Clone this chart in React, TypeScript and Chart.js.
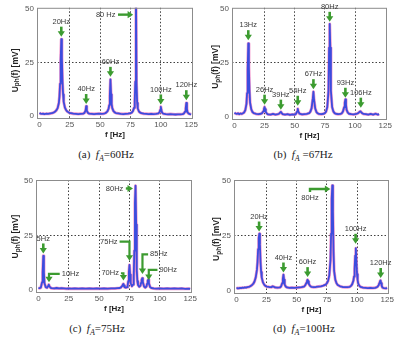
import React, { useEffect, useRef } from "react";
import { Chart, registerables } from "chart.js";

Chart.register(...registerables);
Chart.defaults.font.family = "'Liberation Sans', Arial, sans-serif";

type Pt = [number, number];

// ---------- data: [frequency Hz, amplitude mV] ----------
const spectrumA: Pt[] = [
  [0, 1.3], [1, 1.0], [2, 0.9], [3, 1.0], [4, 0.8], [5, 0.9], [6, 1.0], [7, 0.9], [8, 1.0], [9, 1.1],
  [10, 1.2], [11, 1.4], [12, 1.6], [13, 2.0], [14, 2.6], [15, 3.6], [16, 6.0], [16.5, 9], [17, 15], [17.5, 26],
  [18, 35.8], [18.5, 27], [19, 16], [19.5, 10], [20, 6.5], [21, 3.8], [22, 2.6], [23, 2.0], [24, 1.6], [25, 1.3],
  [26, 1.2], [28, 1.0], [30, 0.9], [32, 0.8], [34, 0.9], [36, 1.0], [37, 1.3], [38, 2.4], [38.5, 4.5], [39, 2.4],
  [40, 1.3], [41, 1.0], [43, 0.9], [45, 0.8], [47, 0.9], [49, 1.0], [51, 0.9], [53, 1.0], [54, 1.2], [55, 1.5],
  [56, 2.1], [57, 3.4], [57.5, 5], [58, 9.5], [58.5, 17], [59, 10], [59.5, 5.5], [60, 3.6], [61, 2.2], [62, 1.6],
  [63, 1.3], [65, 1.1], [67, 0.9], [69, 0.8], [71, 0.9], [73, 1.0], [75, 1.2], [76, 1.5], [77, 2.2], [78, 3.8],
  [78.5, 6.5], [79, 16], [79.5, 62], [80, 15], [80.5, 6], [81, 3.4], [82, 2.0], [83, 1.5], [84, 1.2], [86, 1.0],
  [88, 0.9], [90, 0.8], [92, 0.9], [94, 0.8], [96, 0.9], [98, 1.1], [99, 1.7], [99.5, 2.8], [100, 4.2], [100.5, 2.6],
  [101, 1.5], [102, 1.0], [104, 0.8], [106, 0.7], [108, 0.8], [110, 0.7], [112, 0.6], [114, 0.7], [116, 0.7], [118, 0.8],
  [119, 1.1], [120, 2.0], [120.5, 3.5], [121, 6.0], [121.5, 3.2], [122, 1.6], [123, 1.0], [124, 0.8], [125, 0.7],
];

const spectrumB: Pt[] = [
  [0, 1.8], [1, 1.5], [2, 1.3], [3, 1.6], [4, 1.2], [5, 1.5], [6, 1.3], [7, 1.6], [8, 2.0], [9, 3.0],
  [10, 6.0], [10.5, 11], [11, 22], [11.5, 34], [12, 23], [12.5, 12], [13, 6.5], [14, 3.4], [15, 2.2], [16, 1.7],
  [17, 1.5], [18, 1.3], [20, 1.2], [22, 1.4], [23, 1.7], [24, 2.6], [24.5, 3.6], [25, 4.5], [25.5, 3.5], [26, 2.2],
  [27, 1.4], [28, 1.1], [30, 1.0], [32, 1.3], [34, 1.0], [36, 1.2], [37, 1.4], [38, 2.0], [38.5, 2.3], [39, 1.8],
  [40, 1.2], [42, 1.0], [44, 1.2], [46, 0.9], [48, 1.1], [50, 1.0], [51, 1.3], [52, 2.5], [52.5, 3.7], [53, 2.4],
  [54, 1.4], [56, 1.1], [58, 1.2], [60, 1.3], [62, 1.7], [63, 2.4], [64, 4.0], [65, 8.5], [65.5, 11.6], [66, 8.0],
  [67, 3.8], [68, 2.2], [69, 1.6], [70, 1.3], [72, 1.2], [74, 1.4], [75, 1.7], [76, 2.4], [77, 4.5], [78, 12],
  [78.5, 32], [79, 43], [79.5, 32], [80, 12], [81, 4.5], [82, 2.5], [83, 1.7], [84, 1.4], [86, 1.2], [88, 1.3],
  [89, 1.6], [90, 2.4], [91, 4.5], [91.5, 6.5], [92, 8.0], [92.5, 5.5], [93, 3.2], [94, 1.9], [95, 1.4], [97, 1.2],
  [99, 1.1], [101, 1.3], [102, 1.5], [103, 1.9], [104, 2.4], [104.5, 2.5], [105, 2.2], [106, 1.6], [107, 1.3], [109, 1.2],
  [111, 1.0], [113, 1.3], [115, 1.0], [117, 1.4], [119, 1.0], [120, 1.2],
];

const spectrumC: Pt[] = [
  [0, 0.8], [1, 0.7], [2, 1.0], [3, 3.5], [3.5, 8], [4, 15.6], [4.5, 8], [5, 3.0], [6, 1.2], [7, 0.9],
  [7.5, 1.2], [8, 1.8], [8.5, 2.4], [9, 1.6], [10, 0.9], [11, 0.7], [13, 0.6], [15, 0.8], [17, 0.6], [19, 0.7],
  [21, 0.6], [23, 0.5], [25, 0.6], [27, 0.5], [30, 0.6], [33, 0.5], [36, 0.6], [39, 0.5], [42, 0.6], [45, 0.5],
  [48, 0.6], [51, 0.5], [54, 0.6], [57, 0.5], [60, 0.6], [63, 0.6], [65, 0.7], [67, 0.8], [68, 1.1], [69, 1.8],
  [69.5, 2.4], [70, 2.7], [70.5, 2.0], [71, 1.2], [72, 1.0], [73, 1.2], [73.5, 2.0], [74, 4.0], [74.5, 8], [75, 11.4],
  [75.5, 7], [76, 3.0], [77, 1.6], [78, 2.4], [78.5, 6], [79, 18], [79.5, 40], [80, 47.9], [80.5, 30], [81, 9],
  [81.5, 4], [82, 2.2], [83, 1.4], [84, 1.8], [84.5, 3.2], [85, 4.6], [85.5, 5.3], [86, 3.6], [87, 1.5], [88, 1.0],
  [89, 1.5], [89.5, 2.8], [90, 4.2], [90.5, 4.7], [91, 3.0], [92, 1.2], [93, 0.8], [95, 0.6], [97, 0.5], [100, 0.6],
  [103, 0.5], [106, 0.6], [109, 0.5], [112, 0.6], [115, 0.5], [118, 0.6], [121, 0.4], [124, 0.5], [125, 0.4],
];

const spectrumD: Pt[] = [
  [0, 1.0], [1, 1.2], [2, 1.1], [3, 1.3], [4, 1.2], [5, 1.4], [6, 1.3], [7, 1.5], [8, 1.4], [9, 1.6],
  [10, 1.7], [11, 1.9], [12, 2.2], [13, 2.6], [14, 3.2], [15, 4.2], [16, 6.0], [17, 9.5], [17.5, 13], [18, 19],
  [18.5, 24], [19, 26], [19.5, 21], [20, 13], [20.5, 8.5], [21, 6.0], [22, 3.8], [23, 2.8], [24, 2.2], [25, 1.9],
  [27, 1.7], [29, 1.6], [30, 2.0], [31, 1.8], [32, 1.5], [34, 1.4], [36, 1.5], [37, 1.9], [38, 3.5], [38.5, 5.5],
  [39, 7.3], [39.5, 5], [40, 2.8], [41, 1.8], [42, 1.5], [44, 1.3], [46, 1.4], [48, 1.3], [50, 1.4], [52, 1.5],
  [54, 1.6], [56, 1.9], [57, 2.4], [58, 3.6], [58.5, 4.4], [59, 5.0], [59.5, 4.2], [60, 3.2], [61, 2.2], [62, 1.8],
  [64, 1.6], [66, 1.7], [68, 1.9], [70, 2.0], [72, 2.3], [74, 2.8], [75, 3.4], [76, 4.5], [77, 7], [78, 14],
  [78.5, 26], [79, 42], [79.5, 48], [80, 36], [80.5, 18], [81, 9], [82, 5], [83, 3.4], [84, 2.6], [86, 2.0],
  [88, 1.7], [90, 1.6], [92, 1.6], [94, 1.8], [95, 2.2], [96, 3.0], [97, 4.6], [97.5, 6.5], [98, 10], [98.5, 16],
  [99, 19.4], [99.5, 13], [100, 7.5], [100.5, 4.8], [101, 3.2], [102, 2.2], [103, 1.7], [105, 1.4], [107, 1.3], [109, 1.2],
  [111, 1.3], [113, 1.2], [115, 1.3], [116, 1.5], [117, 1.8], [118, 2.6], [118.5, 3.5], [119, 4.3], [119.5, 4.7], [120, 3.4],
  [120.5, 2.2], [121, 1.5], [122, 1.2], [124, 1.1], [125, 1.2],
];

// tick values
const xTickValues = [0, 25, 50, 75, 100, 125];
const yTickValues = [0, 25, 50];
const xGridValues = [25, 50, 75, 100];
const yGridValues = [25];

// peak labels: f/v = arrow tip (Hz, mV); tf/tv = label anchor
type Ann = { text: string; kind: "down" | "right" | "rightBelow" | "elbow"; f: number; v: number; tf?: number; tv?: number };

const labelsA: Ann[] = [
  { text: "20Hz", kind: "down", f: 18, v: 37 },
  { text: "40Hz", kind: "down", f: 38.5, v: 5.5 },
  { text: "60Hz", kind: "down", f: 58.5, v: 18.2 },
  { text: "80 Hz", kind: "right", f: 77.2, v: 47.3, tf: 64.7 },
  { text: "100Hz", kind: "down", f: 100, v: 5.3 },
  { text: "120Hz", kind: "down", f: 121, v: 7.3 },
];
const labelsB: Ann[] = [
  { text: "13Hz", kind: "down", f: 11.5, v: 35.5 },
  { text: "26Hz", kind: "down", f: 25, v: 5.6 },
  { text: "39Hz", kind: "down", f: 38.5, v: 3.3 },
  { text: "54Hz", kind: "down", f: 52.5, v: 5.1 },
  { text: "67Hz", kind: "down", f: 65.5, v: 12.8 },
  { text: "80Hz", kind: "down", f: 79, v: 44 },
  { text: "93Hz", kind: "down", f: 92, v: 8.8 },
  { text: "106Hz", kind: "down", f: 104.8, v: 4.2 },
];
const labelsC: Ann[] = [
  { text: "5Hz", kind: "down", f: 4, v: 16.7 },
  { text: "10Hz", kind: "elbow", f: 8.7, v: 3.5, tf: 26.4, tv: 7.3 },
  { text: "70Hz", kind: "elbow", f: 70, v: 4.2, tf: 59.1, tv: 7.6 },
  { text: "75Hz", kind: "elbow", f: 75, v: 13.3, tf: 58, tv: 22.1 },
  { text: "80Hz", kind: "right", f: 77.9, v: 46.6, tf: 72 },
  { text: "85Hz", kind: "elbow", f: 85.7, v: 7.3, tf: 99.2, tv: 16.3 },
  { text: "90Hz", kind: "elbow", f: 90.9, v: 4.5, tf: 106.9, tv: 9.1 },
];
const labelsD: Ann[] = [
  { text: "20Hz", kind: "down", f: 18.8, v: 27 },
  { text: "40Hz", kind: "down", f: 39, v: 8.3 },
  { text: "60Hz", kind: "down", f: 59, v: 6.2 },
  { text: "80Hz", kind: "rightBelow", f: 77.9, v: 46.4, tf: 61 },
  { text: "100Hz", kind: "down", f: 98.8, v: 21.4 },
  { text: "120Hz", kind: "down", f: 119.6, v: 5.8 },
];

const captionTags = ["(a)", "(b)", "(c)", "(d)"];
const captionFreqs = ["=60Hz", " =67Hz", "=75Hz", "=100Hz"];

// ---------- styling / layout ----------
const BLUE = "rgb(60,76,222)";
const PINK = "rgba(236,120,190,0.8)";
const GREEN = "#3c9b30";
const GRID = "rgba(0,0,0,0.75)";
const FRAME = "#8c8c8c";
const TEXT = "#3a3a3a";

type Panel = {
  left: number; top: number; yw: number; pt: number; pr: number; xh: number;
  yTitleDx: number; yTitleDy: number; data: Pt[]; labels: Ann[];
};

const panels: Panel[] = [
  { left: 0, top: 0, yw: 37, pt: 5, pr: 11, xh: 26, yTitleDx: 21.5, yTitleDy: 7, data: spectrumA, labels: labelsA },
  { left: 204, top: 0, yw: 28, pt: 5, pr: 21, xh: 25, yTitleDx: 16, yTitleDy: 3, data: spectrumB, labels: labelsB },
  { left: 0, top: 172, yw: 36, pt: 8, pr: 12, xh: 24, yTitleDx: 20, yTitleDy: 0, data: spectrumC, labels: labelsC },
  { left: 204, top: 172, yw: 30, pt: 8, pr: 19, xh: 23, yTitleDx: 17.3, yTitleDy: 2, data: spectrumD, labels: labelsD },
];

const captionPos = [
  { x: 106, y: 155 },
  { x: 303, y: 155 },
  { x: 97, y: 329 },
  { x: 304, y: 329 },
];

const FONT_LBL = "7.5px 'Liberation Sans', Arial, sans-serif";

function head(ctx: CanvasRenderingContext2D, x: number, y: number, dx: number, dy: number) {
  const L = 5.5, W = 3.6;
  const bx = x - dx * L, by = y - dy * L;
  ctx.beginPath();
  ctx.moveTo(x, y);
  ctx.lineTo(bx - dy * W, by + dx * W);
  ctx.lineTo(bx + dy * W, by - dx * W);
  ctx.closePath();
  ctx.fill();
}

function makeOverlay(p: Panel) {
  return {
    id: "overlay",
    afterDraw(chart: any) {
      const { ctx, chartArea: ca } = chart;
      const xs = chart.scales.x, ys = chart.scales.y;
      ctx.save();
      // frame
      ctx.strokeStyle = FRAME;
      ctx.lineWidth = 1;
      ctx.strokeRect(ca.left + 0.5, ca.top + 0.5, ca.width - 1, ca.height - 1);

      // x title
      ctx.fillStyle = "#222";
      ctx.font = "bold 8px 'Liberation Sans', Arial, sans-serif";
      ctx.textAlign = "center";
      ctx.textBaseline = "middle";
      ctx.fillText("f [Hz]", (ca.left + ca.right) / 2, ca.bottom + 15.5);

      // y title with subscript
      ctx.save();
      ctx.translate(ca.left - p.yTitleDx, (ca.top + ca.bottom) / 2 + p.yTitleDy);
      ctx.rotate(-Math.PI / 2);
      const big = "bold 8.5px 'Liberation Sans', Arial, sans-serif";
      const small = "bold 6.5px 'Liberation Sans', Arial, sans-serif";
      ctx.font = big; const w1 = ctx.measureText("U").width; const w3 = ctx.measureText("(f) [mV]").width;
      ctx.font = small; const w2 = ctx.measureText("ph").width;
      let cx = -(w1 + w2 + w3) / 2;
      ctx.textAlign = "left";
      ctx.font = big; ctx.fillText("U", cx, 0); cx += w1;
      ctx.font = small; ctx.fillText("ph", cx, 2.2); cx += w2;
      ctx.font = big; ctx.fillText("(f) [mV]", cx, 0);
      ctx.restore();

      // peak labels
      ctx.font = FONT_LBL;
      ctx.textBaseline = "middle";
      for (const a of p.labels) {
        const px = xs.getPixelForValue(a.f);
        const py = ys.getPixelForValue(a.v);
        ctx.strokeStyle = GREEN;
        ctx.fillStyle = GREEN;
        ctx.lineCap = "butt";
        if (a.kind === "down") {
          ctx.lineWidth = 2.6;
          ctx.beginPath(); ctx.moveTo(px, py - 10); ctx.lineTo(px, py - 4); ctx.stroke();
          head(ctx, px, py, 0, 1);
          ctx.fillStyle = TEXT; ctx.textAlign = "center";
          ctx.fillText(a.text, px, py - 15);
        } else if (a.kind === "right") {
          const tx = xs.getPixelForValue(a.tf!);
          ctx.lineWidth = 2.4;
          ctx.beginPath(); ctx.moveTo(tx, py); ctx.lineTo(px - 4, py); ctx.stroke();
          head(ctx, px, py, 1, 0);
          ctx.fillStyle = TEXT; ctx.textAlign = "right";
          ctx.fillText(a.text, tx - 2.5, py);
        } else if (a.kind === "rightBelow") {
          const tx = xs.getPixelForValue(a.tf!);
          ctx.lineWidth = 2.4;
          ctx.beginPath(); ctx.moveTo(tx, py + 3); ctx.lineTo(tx, py); ctx.lineTo(px - 4, py); ctx.stroke();
          head(ctx, px, py, 1, 0);
          ctx.fillStyle = TEXT; ctx.textAlign = "center";
          ctx.fillText(a.text, tx, py + 9);
        } else {
          const tx = xs.getPixelForValue(a.tf!);
          const ty = ys.getPixelForValue(a.tv!);
          const w = ctx.measureText(a.text).width;
          const edge = px < tx ? tx - w / 2 - 2 : tx + w / 2 + 2;
          ctx.lineWidth = 2.2;
          ctx.lineJoin = "miter";
          ctx.beginPath(); ctx.moveTo(edge, ty); ctx.lineTo(px, ty); ctx.lineTo(px, py - 4); ctx.stroke();
          head(ctx, px, py, 0, 1);
          ctx.fillStyle = TEXT; ctx.textAlign = "center";
          ctx.fillText(a.text, tx, ty);
        }
      }
      ctx.restore();
    },
  };
}

function SpectrumPanel({ p }: { p: Panel }) {
  const ref = useRef<HTMLCanvasElement | null>(null);
  useEffect(() => {
    if (!ref.current) return;
    const pts = p.data.map(([x, y]) => ({ x, y }));
    const chart = new Chart(ref.current, {
      type: "line",
      data: {
        datasets: [
          { data: pts, borderColor: BLUE, borderWidth: 1.8, pointRadius: 0, tension: 0, borderJoinStyle: "round" },
          { data: pts, borderColor: PINK, borderWidth: 3.0, pointRadius: 0, tension: 0, borderJoinStyle: "round" },
        ],
      },
      options: {
        animation: false,
        responsive: false,
        maintainAspectRatio: false,
        events: [],
        layout: { padding: { left: 0, top: p.pt, right: p.pr, bottom: 0 } },
        plugins: { legend: { display: false }, tooltip: { enabled: false } },
        scales: {
          x: {
            type: "linear",
            min: -2,
            max: 126.5,
            afterBuildTicks: (s: any) => { s.ticks = xTickValues.map((v) => ({ value: v })); },
            afterFit: (s: any) => { s.height = p.xh; },
            grid: {
              color: (c: any) => (c.tick && xGridValues.includes(c.tick.value) ? GRID : "rgba(0,0,0,0)"),
              drawTicks: false,
              lineWidth: 1,
            },
            border: { display: false, dash: [1.5, 2] },
            ticks: { padding: 1, color: "#555", font: { size: 8 }, maxRotation: 0, autoSkip: false },
          },
          y: {
            type: "linear",
            min: -1.5,
            max: 50.5,
            afterBuildTicks: (s: any) => { s.ticks = yTickValues.map((v) => ({ value: v })); },
            afterFit: (s: any) => { s.width = p.yw; },
            grid: {
              color: (c: any) => (c.tick && yGridValues.includes(c.tick.value) ? GRID : "rgba(0,0,0,0)"),
              drawTicks: false,
              lineWidth: 1,
            },
            border: { display: false, dash: [1.5, 2] },
            ticks: { padding: 3, color: "#555", font: { size: 8 }, autoSkip: false },
          },
        },
      },
      plugins: [makeOverlay(p)],
    } as any);
    return () => chart.destroy();
  }, [p]);
  return (
    <canvas
      ref={ref}
      width={204}
      height={145}
      style={{ position: "absolute", left: p.left, top: p.top, width: 204, height: 145 }}
    />
  );
}

export default function App() {
  return (
    <div style={{ position: "absolute", left: 0, top: 0, width: 408, height: 345, background: "#fff", overflow: "hidden" }}>
      {panels.map((p, i) => (
        <SpectrumPanel key={i} p={p} />
      ))}
      {captionPos.map((c, i) => (
        <div
          key={"cap" + i}
          style={{
            position: "absolute",
            left: c.x,
            top: c.y,
            transform: "translate(-50%, -50%)",
            fontFamily: "'Liberation Serif', 'Times New Roman', serif",
            fontSize: 11,
            fontWeight: 400,
            color: "#222",
            whiteSpace: "pre",
            lineHeight: "12px",
          }}
        >
          {captionTags[i]}{"  "}
          <i>f</i>
          <i style={{ fontSize: 8, position: "relative", top: 3 }}>A</i>
          {captionFreqs[i]}
        </div>
      ))}
    </div>
  );
}
